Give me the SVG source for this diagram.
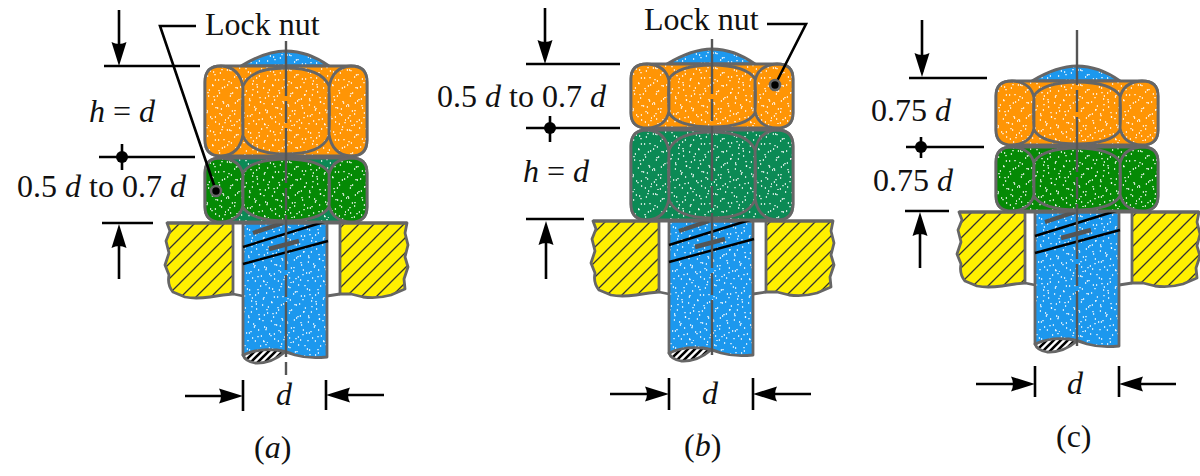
<svg xmlns="http://www.w3.org/2000/svg" xmlns:xlink="http://www.w3.org/1999/xlink" width="1200" height="476" viewBox="0 0 1200 476">
<style>
text{font-family:"Liberation Serif","Times New Roman",serif;font-size:32px;fill:#111}
.i{font-style:italic}
.dim{stroke:#000;stroke-width:2.6;fill:none}
.ol{stroke:#666;stroke-width:2.8;stroke-linejoin:round}
.cl{stroke:#555;stroke-width:2.4;fill:none;stroke-dasharray:55 5 22 5}
.th{stroke:#000;stroke-width:2.4;fill:none}
.bar{stroke:#555;stroke-width:4.4;fill:none}
.hd{fill:#000;stroke:none}
.halo{fill:#000;stroke:#666;stroke-width:2.6}
.orange{fill:url(#po)}.green{fill:url(#pg)}.teal{fill:url(#pt)}.blue{fill:url(#pb)}
</style>
<defs>
<path id="dots" fill="none" stroke="#fff" stroke-width="1.3" d="M3 4h1.2M13 2h1.2M24 7h1.2M35 3h1.2M47 6h1.2M56 1h1.2M8 11h1.2M19 13h1.2M30 12h1.2M41 10h1.2M52 14h1.2M1 19h1.2M14 21h1.2M26 18h1.2M37 22h1.2M46 19h1.2M58 21h1.2M6 27h1.2M18 29h1.2M31 26h1.2M42 30h1.2M53 27h1.2M11 35h1.2M23 33h1.2M34 36h1.2M48 34h1.2M57 37h1.2M2 40h1.2M16 42h1.2M28 41h1.2M39 44h1.2M51 42h1.2M8 48h1.2M21 50h1.2M33 47h1.2M44 51h1.2M55 49h1.2M4 55h1.2M15 57h1.2M27 55h1.2M38 58h1.2M49 56h1.2M59 54h1.2"/>
<g id="dots2"><use href="#dots"/><use href="#dots" transform="rotate(90 30 30)"/><use href="#dots" transform="translate(60,0) scale(-1,1) translate(2,3)"/></g>
<pattern id="po" width="60" height="60" patternUnits="userSpaceOnUse"><rect width="60" height="60" fill="#FF9505"/><use href="#dots2"/></pattern>
<pattern id="pg" width="60" height="60" patternUnits="userSpaceOnUse"><rect width="60" height="60" fill="#058A05"/><use href="#dots2"/></pattern>
<pattern id="pt" width="60" height="60" patternUnits="userSpaceOnUse"><rect width="60" height="60" fill="#0B8A55"/><use href="#dots2"/></pattern>
<pattern id="pb" width="60" height="60" patternUnits="userSpaceOnUse"><rect width="60" height="60" fill="#1C98EE"/><use href="#dots2"/></pattern>
<pattern id="py" width="15" height="15" patternUnits="userSpaceOnUse"><rect width="15" height="15" fill="#FFF000"/><path d="M-2 17L17 -2M-2 2L2 -2M13 17L17 13" stroke="#333" stroke-width="1.3"/></pattern>
<pattern id="pk" width="7" height="7" patternUnits="userSpaceOnUse"><rect width="7" height="7" fill="#fff"/><path d="M-1 8L8 -1M-1 1L1 -1M6 8L8 6" stroke="#000" stroke-width="2.6"/></pattern>
<path id="dome" d="M-45 15Q-20 0 0 0Q22 0 43 15Z"/>
<path id="tallBody" d="M-65 0H65Q81 0 81 16V74Q81 90 65 90H-65Q-81 90 -81 74V16Q-81 0 -65 0Z"/>
<path id="tallFaces" d="M-65 0Q-46 1 -43 22V68Q-46 89 -65 90Q-81 90 -81 74V16Q-81 0 -65 0ZM65 0Q46 1 43 22V68Q46 89 65 90Q81 90 81 74V16Q81 0 65 0ZM-43 20C-38 8 -22 2 0 2S38 8 43 20Q44 45 43 70C38 82 22 88 0 88S-38 82 -43 70Q-44 45 -43 20Z"/>
<path id="shortBody" d="M-65 0H65Q81 0 81 15V49Q81 64 65 64H-65Q-81 64 -81 49V15Q-81 0 -65 0Z"/>
<path id="shortFaces" d="M-65 0Q-46 1 -43 17V47Q-46 63 -65 64Q-81 64 -81 49V15Q-81 0 -65 0ZM65 0Q46 1 43 17V47Q46 63 65 64Q81 64 81 49V15Q81 0 65 0ZM-43 15C-38 6 -22 1 0 1S38 6 43 15Q44 32 43 49C38 58 22 63 0 63S-38 58 -43 49Q-44 32 -43 15Z"/>
<g id="base">
<path class="ol" fill="url(#py)" d="M-118 0H-52V71L-62 72L-75 74Q-90 76 -100 74L-112 69Q-118 62 -116 52L-120 42L-116 30L-119 18L-115 8Z"/>
<path class="ol" fill="url(#py)" d="M55 0H122L120 10L123 22L120 34L123 44L119 56L120 66L106 72Q92 76 78 74L66 71H55Z"/>
<path class="ol blue" d="M-42 0H42V134Q24 136 10 132Q0 128 -8 127L-42 132Z"/>
<path class="ol" fill="url(#pk)" d="M-42 132Q-22 123 0 129Q-14 141 -30 140Q-40 138 -42 132Z"/>
<path class="ol" fill="none" d="M-118 0H122M-52 71L-42 73M42 73L55 71"/>
<path class="th" d="M-42 24L42 -2M-42 41L43 18"/>
<path class="bar" d="M-32 10L-2 0M-16 26L14 18"/>
</g>
<g id="dn"><path class="hd" d="M0 0L-7.5 -24Q0 -20 7.5 -24Z"/></g>
<g id="up"><path class="hd" d="M0 0L-7.5 24Q0 20 7.5 24Z"/></g>
<g id="rt"><path class="hd" d="M0 0L-24 -7.5Q-20 0 -24 7.5Z"/></g>
<g id="lf"><path class="hd" d="M0 0L24 -7.5Q20 0 24 7.5Z"/></g>
</defs>

<g id="fig-a">
<g id="a-base"><use href="#base" transform="translate(285,223)"/></g>
<g id="a-dome"><use href="#dome" class="ol blue" transform="translate(286,51)"/></g>
<g id="a-upper-nut" transform="translate(286,66)"><use href="#tallBody" class="ol orange"/><use href="#tallFaces" class="ol orange"/></g>
<g id="a-lock-nut" transform="translate(286,158)"><use href="#shortBody" class="ol teal"/><use href="#shortFaces" class="ol green"/></g>
</g>

<g id="fig-b">
<g id="b-base"><use href="#base" transform="translate(711,221)"/></g>
<g id="b-dome"><use href="#dome" class="ol blue" transform="translate(712,49)"/></g>
<g id="b-lock-nut" transform="translate(712,64)"><use href="#shortBody" class="ol orange"/><use href="#shortFaces" class="ol orange"/></g>
<g id="b-lower-nut" transform="translate(712,130)"><use href="#tallBody" class="ol teal"/><use href="#tallFaces" class="ol teal"/></g>
</g>

<g id="fig-c">
<g id="c-base"><use href="#base" transform="translate(1077,212)"/></g>
<g id="c-dome"><use href="#dome" class="ol blue" transform="translate(1077,66)"/></g>
<g id="c-upper-nut" transform="translate(1077,81)"><use href="#shortBody" class="ol orange"/><use href="#shortFaces" class="ol orange"/></g>
<g id="c-lower-nut" transform="translate(1077,147)"><use href="#shortBody" class="ol green"/><use href="#shortFaces" class="ol green"/></g>
</g>

<g id="connectors">
<path class="cl" d="M286 41V375"/>
<path class="cl" d="M712 39V356"/>
<path class="cl" d="M1077 30V348"/>

<path class="dim" d="M119 10V60M104 66H200M99 157H195M122 144V170M102 223H153M119 279V235M243 380V411M326 380V410M185 396H225M384 395H345"/>
<use href="#dn" x="119" y="66"/><use href="#up" x="119" y="224"/><use href="#rt" x="243" y="396"/><use href="#lf" x="326" y="395"/>
<circle cx="122" cy="157" r="6"/>
<path class="dim" d="M196 26H160L216 191"/>
<circle class="halo" cx="216" cy="191" r="5"/>

<path class="dim" d="M545 8V58M526 64H620M526 128H620M550 116V142M526 219H584M546 279V235M669 378V410M753 378V410M610 394H650M811 394H772"/>
<use href="#dn" x="545" y="64"/><use href="#up" x="546" y="221"/><use href="#rt" x="669" y="394"/><use href="#lf" x="753" y="394"/>
<circle cx="550" cy="128" r="6"/>
<path class="dim" d="M767 24H806L775 85"/>
<circle class="halo" cx="775" cy="85" r="5"/>

<path class="dim" d="M922 20V72M909 78H987M906 147H984M921 137V158M905 211H949M920 268V228M1035 366V397M1119 366V397M976 384H1015M1176 384H1138"/>
<use href="#dn" x="922" y="77"/><use href="#up" x="920" y="212"/><use href="#rt" x="1035" y="384"/><use href="#lf" x="1119" y="384"/>
<circle cx="921" cy="147" r="6"/>
</g>

<g id="labels">
<text x="205" y="35">Lock nut</text>
<text x="89" y="122"><tspan class="i">h</tspan> = <tspan class="i">d</tspan></text>
<text x="17" y="197">0.5 <tspan class="i">d</tspan> to 0.7 <tspan class="i">d</tspan></text>
<text x="276" y="405" class="i">d</text>
<text x="254" y="458">(<tspan class="i">a</tspan>)</text>

<text x="644" y="30">Lock nut</text>
<text x="437" y="107">0.5 <tspan class="i">d</tspan> to 0.7 <tspan class="i">d</tspan></text>
<text x="523" y="182"><tspan class="i">h</tspan> = <tspan class="i">d</tspan></text>
<text x="702" y="404" class="i">d</text>
<text x="684" y="456">(<tspan class="i">b</tspan>)</text>

<text x="871" y="121">0.75 <tspan class="i">d</tspan></text>
<text x="873" y="191">0.75 <tspan class="i">d</tspan></text>
<text x="1067" y="394" class="i">d</text>
<text x="1056" y="447">(c)</text>
</g>
</svg>
